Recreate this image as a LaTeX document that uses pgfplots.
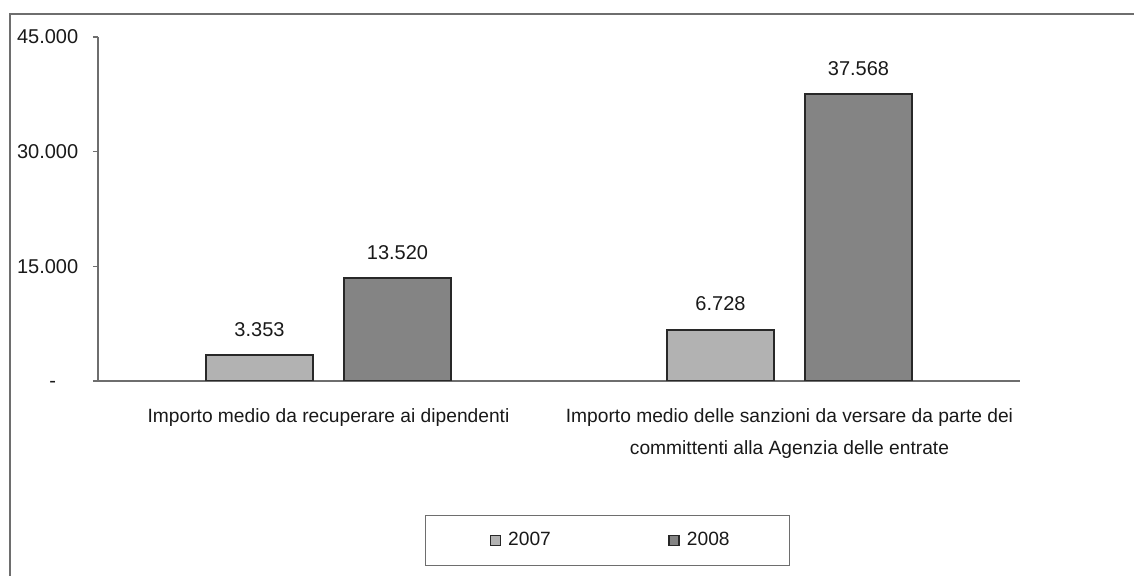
\documentclass[border=0pt]{standalone}
\usepackage{fontspec}
\setmainfont{Liberation Sans}
\usepackage{pgfplots}
\pgfplotsset{compat=1.18}
\definecolor{bA}{RGB}{178,178,178}
\definecolor{bB}{RGB}{132,132,132}
\definecolor{edge}{RGB}{40,40,40}
\definecolor{axc}{RGB}{110,110,110}
\definecolor{txt}{RGB}{25,25,25}
\begin{document}
\fontsize{9.6pt}{16pt}\selectfont
\begin{tikzpicture}
\useasboundingbox (-49pt,-97.5pt) rectangle (518pt,190.5pt);
\draw[axc, line width=0.8pt] (-44pt,-105pt) -- (-44pt,183.5pt) -- (525pt,183.5pt);
\begin{axis}[
  at={(0pt,0pt)}, anchor=south west,
  scale only axis, width=461pt, height=172pt,
  xmin=-0.5, xmax=1.5, ymin=0, ymax=45000,
  axis x line*=bottom, axis y line*=left,
  axis line style={axc, line width=0.6pt, -},
  ybar=15.5pt, bar width=53.5pt,
  scaled y ticks=false,
  ytick={0,15000,30000,45000},
  yticklabels={-\phantom{00}, 15.000, 30.000, 45.000},
  y tick label style={xshift=-4pt, text=txt, font=\fontsize{10pt}{12pt}\selectfont},
  xtick={0,1},
  xticklabels={Importo medio da recuperare ai dipendenti, {Importo medio delle sanzioni da versare da parte dei\\committenti alla Agenzia delle entrate}},
  x tick label style={align=center, yshift=-8pt, text=txt},
  x tick style={draw=none},
  y tick style={draw=axc, line width=0.6pt},
  extra x ticks={-0.5,0.5,1.5},
  extra x tick labels={},
  extra x tick style={tick style={draw=axc, line width=0.6pt}},
  tick align=outside,
  major tick length=2.5pt,
  /pgf/number format/assume math mode=true,
  /pgf/number format/1000 sep={.},
  nodes near coords,
  every node near coord/.append style={yshift=5.5pt, text=txt, font=\fontsize{10pt}{12pt}\selectfont},
  legend columns=2,
  legend style={at={(axis description cs:0.5525,-0.4637)}, anchor=center, draw=axc, line width=0.6pt, inner xsep=28pt, inner ysep=6.5pt, text=txt,
    /tikz/every even column/.append style={column sep=52.5pt}},
  legend image code/.code={\path (-4pt,0pt); \draw[#1, line width=0.6pt] (0pt,-2.5pt) rectangle (5pt,2.5pt); \path (6.5pt,0pt);},
]
\addplot[fill=bA, draw=edge, line width=1pt] coordinates {(0,3353) (1,6728)};
\addplot[fill=bB, draw=edge, line width=1pt] coordinates {(0,13520) (1,37568)};
\legend{2007,2008}
\end{axis}
\end{tikzpicture}
\end{document}
